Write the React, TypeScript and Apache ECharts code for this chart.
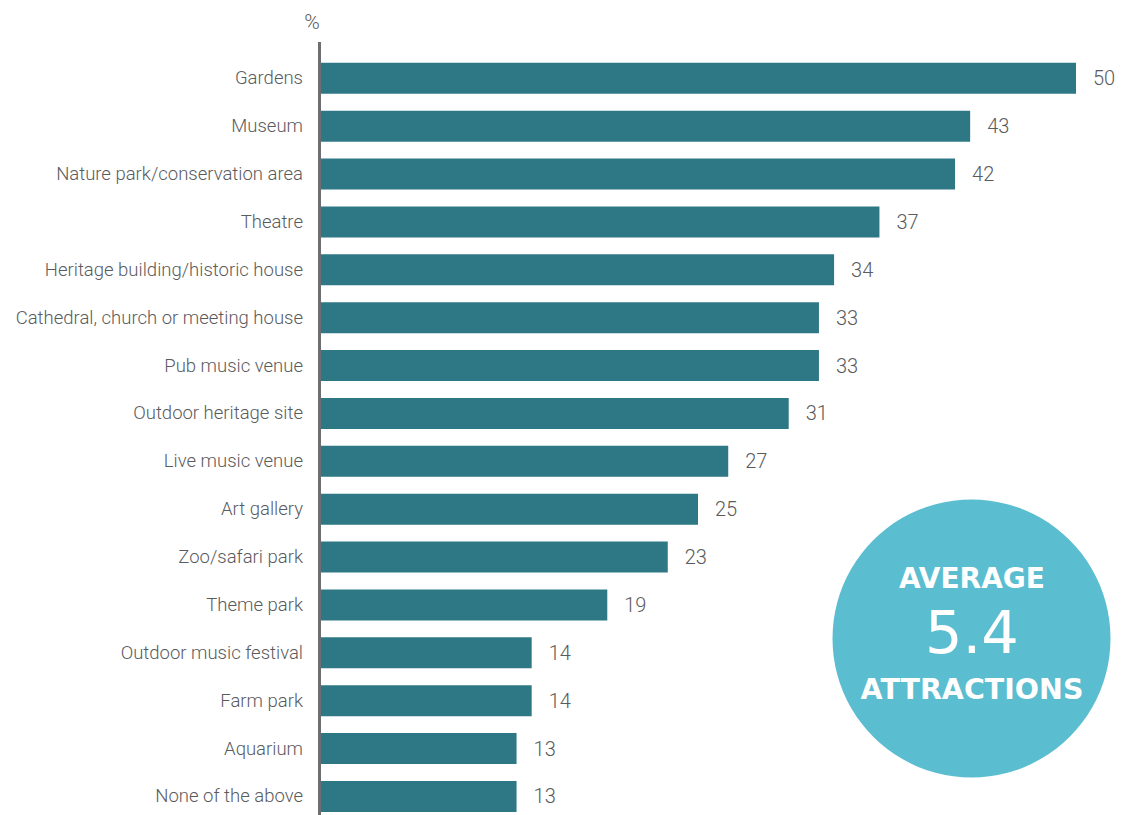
import React, { useEffect, useRef } from "react";
import * as echarts from "echarts";

const categories = [
  "Gardens",
  "Museum",
  "Nature park/conservation area",
  "Theatre",
  "Heritage building/historic house",
  "Cathedral, church or meeting house",
  "Pub music venue",
  "Outdoor heritage site",
  "Live music venue",
  "Art gallery",
  "Zoo/safari park",
  "Theme park",
  "Outdoor music festival",
  "Farm park",
  "Aquarium",
  "None of the above",
];
const values = [50, 43, 42, 37, 34, 33, 33, 31, 27, 25, 23, 19, 14, 14, 13, 13];
const unitLabel = "%";
const badgeLines = ["AVERAGE", "5.4", "ATTRACTIONS"];

const FONT = "Roboto, 'Liberation Sans', sans-serif";
const BADGE_FONT = "'DejaVu Sans', sans-serif";
const TEXT = "#5a5b5d";

export default function App() {
  const ref = useRef<HTMLDivElement>(null);
  useEffect(() => {
    if (!ref.current) return;
    const chart = echarts.init(ref.current, undefined, { renderer: "svg" });
    chart.setOption({
      animation: false,
      grid: {
        left: 320,
        right: 60,
        top: 54.4,
        height: 766,
        containLabel: false,
        outerBoundsMode: "none",
      },
      xAxis: {
        type: "value",
        min: 0,
        max: 50,
        show: false,
      },
      yAxis: {
        type: "category",
        data: categories,
        inverse: true,
        axisLine: { show: false },
        axisTick: { show: false },
        splitLine: { show: false },
        axisLabel: {
          margin: 17,
          fontSize: 18.5,
          fontWeight: 300,
          color: TEXT,
          fontFamily: FONT,
        },
      },
      series: [
        {
          type: "bar",
          data: values,
          barWidth: 31,
          itemStyle: { color: "#2e7886" },
          label: {
            show: true,
            position: "right",
            distance: 17,
            fontSize: 20,
            fontWeight: 300,
            color: TEXT,
            fontFamily: FONT,
          },
        },
      ],
      graphic: [
        {
          type: "line",
          shape: { x1: 319.5, y1: 42, x2: 319.5, y2: 815 },
          style: { stroke: "#6d6e71", lineWidth: 3 },
          z: 10,
        },
        {
          type: "text",
          x: 312,
          y: 22,
          style: {
            text: unitLabel,
            fontSize: 21,
            fontWeight: 300,
            fill: TEXT,
            fontFamily: FONT,
            align: "center",
            verticalAlign: "middle",
          },
        },
        {
          type: "circle",
          shape: { cx: 971.5, cy: 638.5, r: 139 },
          style: { fill: "#5bbdd0" },
        },
        {
          type: "text",
          x: 972,
          y: 578,
          style: {
            text: badgeLines[0],
            fontSize: 28,
            fontWeight: "bold",
            fill: "#ffffff",
            fontFamily: BADGE_FONT,
            align: "center",
            verticalAlign: "middle",
          },
        },
        {
          type: "text",
          x: 972,
          y: 632,
          style: {
            text: badgeLines[1],
            fontSize: 59,
            fontWeight: "normal",
            fill: "#ffffff",
            fontFamily: BADGE_FONT,
            align: "center",
            verticalAlign: "middle",
          },
        },
        {
          type: "text",
          x: 972,
          y: 689,
          style: {
            text: badgeLines[2],
            fontSize: 28.5,
            fontWeight: "bold",
            fill: "#ffffff",
            fontFamily: BADGE_FONT,
            align: "center",
            verticalAlign: "middle",
          },
        },
      ],
    });
    return () => chart.dispose();
  }, []);
  return <div ref={ref} style={{ width: 1136, height: 815, position: "absolute", left: 0, top: 0 }} />;
}
